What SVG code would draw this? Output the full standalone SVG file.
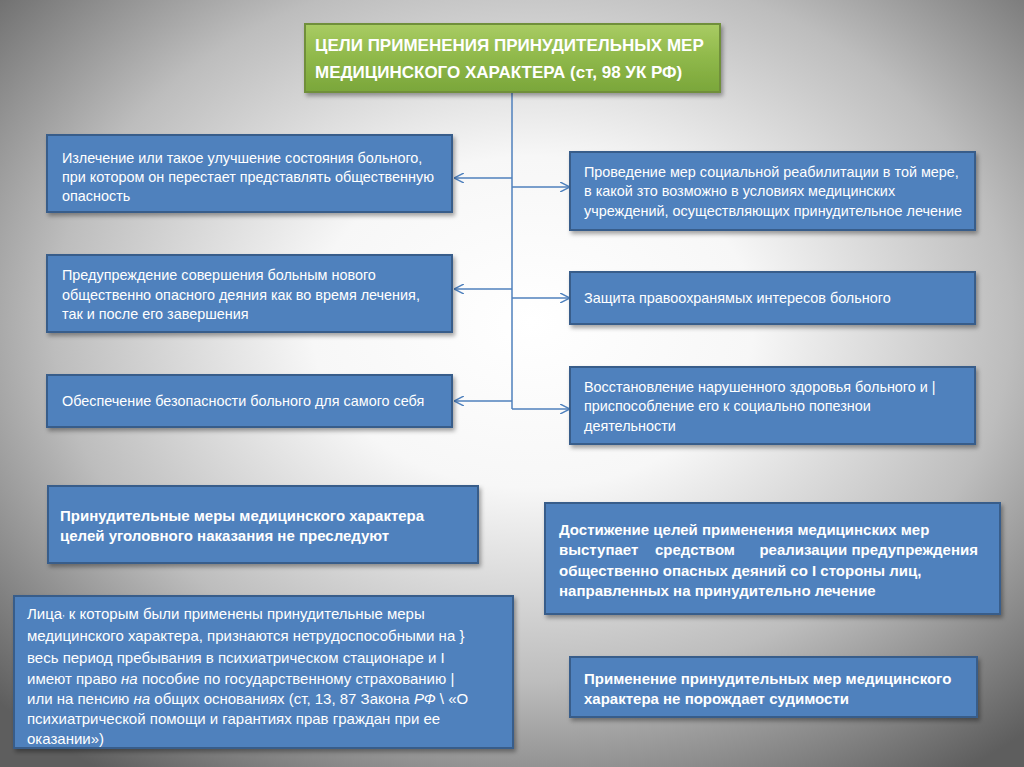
<svg xmlns="http://www.w3.org/2000/svg" width="1024" height="767" viewBox="0 0 1024 767">
<defs>
<radialGradient id="bg" cx="0.52" cy="0.42" r="0.72" gradientUnits="objectBoundingBox">
<stop offset="0" stop-color="#ffffff"/>
<stop offset="0.3" stop-color="#f7f7f7"/>
<stop offset="0.65" stop-color="#bdbdbd"/>
<stop offset="1" stop-color="#5e5e5e"/>
</radialGradient>
<linearGradient id="green" x1="0" y1="0" x2="0" y2="1">
<stop offset="0" stop-color="#a9cc63"/>
<stop offset="0.5" stop-color="#8fb84a"/>
<stop offset="1" stop-color="#7aa63a"/>
</linearGradient>
<filter id="sh" x="-5%" y="-10%" width="110%" height="130%">
<feDropShadow dx="2" dy="3" stdDeviation="2" flood-color="#000" flood-opacity="0.35"/>
</filter>
<marker id="ah" viewBox="0 0 10 10" refX="10" refY="5" markerWidth="10" markerHeight="10" markerUnits="userSpaceOnUse" orient="auto">
<path d="M0,0 L10,5 L0,10" fill="none" stroke="#4f81bd" stroke-width="1.5"/>
</marker>
</defs>
<style>
.box{fill:#4f81bd;stroke:#385d8a;stroke-width:2;filter:url(#sh)}
.t{font-family:"Liberation Sans",Arial,sans-serif;fill:#ffffff;font-size:14.4px}
.b{font-family:"Liberation Sans",Arial,sans-serif;fill:#ffffff;font-size:15px;font-weight:bold}
.ttl{font-family:"Liberation Sans",Arial,sans-serif;fill:#ffffff;font-size:17px;font-weight:bold}
.l{font-family:"Liberation Sans",Arial,sans-serif;fill:#ffffff;font-size:15px}
.c{fill:none;stroke:#4f81bd;stroke-width:1.5}
</style>
<rect width="1024" height="767" fill="url(#bg)"/>
<g id="connectors">
<line class="c" x1="512" y1="92" x2="512" y2="409"/>
<line class="c" x1="512" y1="178" x2="454" y2="178" marker-end="url(#ah)"/>
<line class="c" x1="512" y1="187" x2="570" y2="187" marker-end="url(#ah)"/>
<line class="c" x1="512" y1="289" x2="454" y2="289" marker-end="url(#ah)"/>
<line class="c" x1="512" y1="298" x2="570" y2="298" marker-end="url(#ah)"/>
<line class="c" x1="512" y1="401" x2="454" y2="401" marker-end="url(#ah)"/>
<line class="c" x1="512" y1="409" x2="570" y2="409" marker-end="url(#ah)"/>
</g>
<g id="title">
<rect x="305" y="24" width="415" height="68" fill="url(#green)" stroke="#6f8f3a" stroke-width="2" filter="url(#sh)"/>
<text class="ttl" x="315" y="51">ЦЕЛИ ПРИМЕНЕНИЯ ПРИНУДИТЕЛЬНЫХ МЕР</text>
<text class="ttl" x="315" y="78">МЕДИЦИНСКОГО ХАРАКТЕРА (ст, 98 УК РФ)</text>
</g>
<g id="left1">
<rect class="box" x="47" y="135" width="405" height="77"/>
<text class="t" x="62" y="163">Излечение или такое улучшение состояния больного,</text>
<text class="t" x="62" y="182">при котором он перестает представлять общественную</text>
<text class="t" x="62" y="201">опасность</text>
</g>
<g id="left2">
<rect class="box" x="47" y="255" width="405" height="77"/>
<text class="t" x="62" y="280">Предупреждение совершения больным нового</text>
<text class="t" x="62" y="300">общественно опасного деяния как во время лечения,</text>
<text class="t" x="62" y="319">так и после его завершения</text>
</g>
<g id="left3">
<rect class="box" x="47" y="375" width="405" height="52"/>
<text class="t" x="62" y="406">Обеспечение безопасности больного для самого себя</text>
</g>
<g id="right1">
<rect class="box" x="570" y="152" width="405" height="78"/>
<text class="t" x="584" y="177">Проведение мер социальной реабилитации в той мере,</text>
<text class="t" x="584" y="196">в какой зто возможно в условиях медицинских</text>
<text class="t" x="584" y="216">учреждений, осуществляющих принудительное лечение</text>
</g>
<g id="right2">
<rect class="box" x="570" y="272" width="405" height="52"/>
<text class="t" x="584" y="303">Защита правоохранямых интересов больного</text>
</g>
<g id="right3">
<rect class="box" x="570" y="367" width="405" height="77"/>
<text class="t" x="584" y="392">Восстановление нарушенного здоровья больного и |</text>
<text class="t" x="584" y="411">приспособление его к социально попезнои</text>
<text class="t" x="584" y="431">деятельности</text>
</g>
<g id="bottomleft1">
<rect class="box" x="48" y="486" width="430" height="77"/>
<text class="b" x="60" y="521">Принудительные меры медицинского характера</text>
<text class="b" x="60" y="541">целей уголовного наказания не преследуют</text>
</g>
<g id="bottomright1">
<rect class="box" x="545" y="503" width="455" height="111"/>
<text class="b" x="559" y="535">Достижение целей применения медицинских мер</text>
<text class="b" y="555"><tspan x="559">выступает</tspan><tspan x="655">средством</tspan><tspan x="978" text-anchor="end">реализации предупреждения</tspan></text>
<text class="b" x="559" y="576">общественно опасных деяний со I стороны лиц,</text>
<text class="b" x="559" y="596">направленных на принудительно лечение</text>
</g>
<g id="bottomleft2">
<rect class="box" x="14" y="596" width="499" height="152"/>
<text class="l" x="27" y="619">Лица<tspan font-size="9" dy="-3">,</tspan><tspan dy="3"> к которым были применены принудительные меры</tspan></text>
<text class="l" x="27" y="641">медицинского характера, признаются нетрудоспособными на }</text>
<text class="l" x="27" y="663">весь период пребывания в психиатрическом стационаре и I</text>
<text class="l" x="27" y="684">имеют право <tspan font-style="italic">на</tspan> пособие по государственному страхованию |</text>
<text class="l" x="27" y="704">или на пенсию <tspan font-style="italic">на</tspan> общих основаниях (ст, 13, 87 Закона <tspan font-style="italic">РФ</tspan> \ «О</text>
<text class="l" x="27" y="724">психиатрической помощи и гарантиях прав граждан при ее</text>
<text class="l" x="27" y="744">оказании»)</text>
</g>
<g id="bottomright2">
<rect class="box" x="570" y="657" width="407" height="60"/>
<text class="b" x="584" y="684">Применение принудительных мер медицинского</text>
<text class="b" x="584" y="704">характера не порождает судимости</text>
</g>
</svg>
